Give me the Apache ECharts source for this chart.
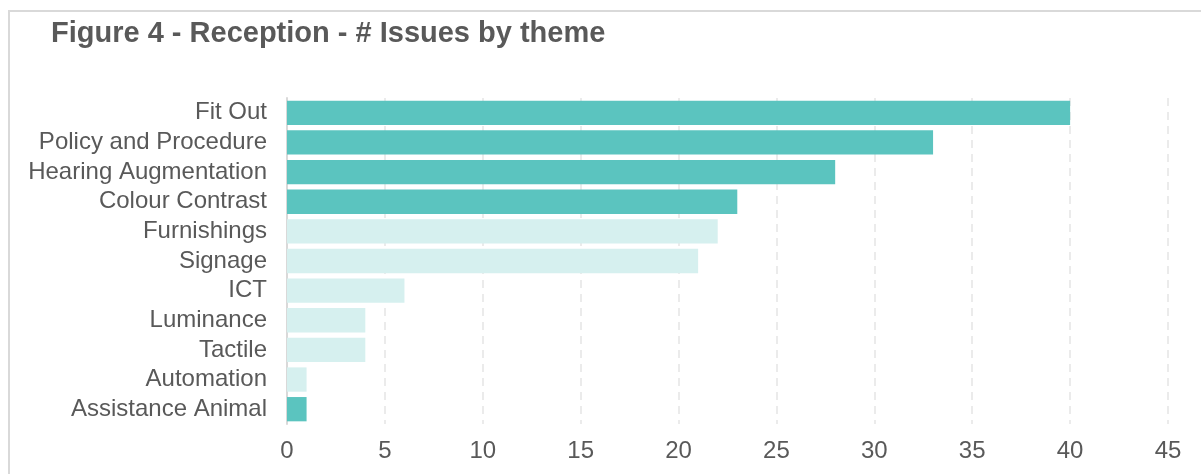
<!DOCTYPE html>
<html>
<head>
<meta charset="utf-8">
<script src="https://cdn.jsdelivr.net/npm/echarts@6/dist/echarts.min.js"></script>
<style>
  html, body { margin: 0; padding: 0; background: #fff; }
  #chart { width: 1201px; height: 474px; }
</style>
</head>
<body>
<div id="chart"></div>
<script>
// themes, top to bottom as shown
var themes = ["Fit Out", "Policy and Procedure", "Hearing Augmentation", "Colour Contrast",
  "Furnishings", "Signage", "ICT", "Luminance", "Tactile", "Automation", "Assistance Animal"];
var issues = [40, 33, 28, 23, 22, 21, 6, 4, 4, 1, 1];
// which bars are highlighted (dark teal)
var highlight = [1, 1, 1, 1, 0, 0, 0, 0, 0, 0, 1];

var dark = "#5bc4bf";
var light = "#d6f0ef";

var chart = echarts.init(document.getElementById("chart"));
chart.setOption({
  animation: false,
  textStyle: { fontFamily: "Liberation Sans, Arial, sans-serif" },
  title: {
    text: "Figure 4 - Reception - # Issues by theme",
    left: 46,
    top: 14,
    textStyle: { fontSize: 29, fontWeight: "bold", color: "#595959" }
  },
  graphic: [{
    type: "rect",
    shape: { x: 9, y: 11, width: 1300, height: 470 },
    style: { fill: "none", stroke: "#d9d9d9", lineWidth: 2 },
    silent: true
  }],
  grid: { left: 287, right: 33, top: 98, bottom: 50 },
  xAxis: {
    type: "value",
    min: 0,
    max: 45,
    interval: 5,
    axisLine: { show: false },
    axisTick: { show: false },
    axisLabel: { fontSize: 24, color: "#595959", margin: 15 },
    splitLine: { show: true, lineStyle: { color: "#ebebeb", type: [8, 6], width: 2 } }
  },
  yAxis: {
    type: "category",
    inverse: true,
    data: themes,
    axisLine: { show: true, lineStyle: { color: "#d9d9d9", width: 2 } },
    axisTick: { show: false },
    axisLabel: { fontSize: 24, color: "#595959", margin: 20, interval: 0 }
  },
  series: [{
    type: "bar",
    barCategoryGap: "18%",
    data: issues.map(function (v, i) {
      return { value: v, itemStyle: { color: highlight[i] ? dark : light } };
    })
  }]
});
</script>
</body>
</html>
